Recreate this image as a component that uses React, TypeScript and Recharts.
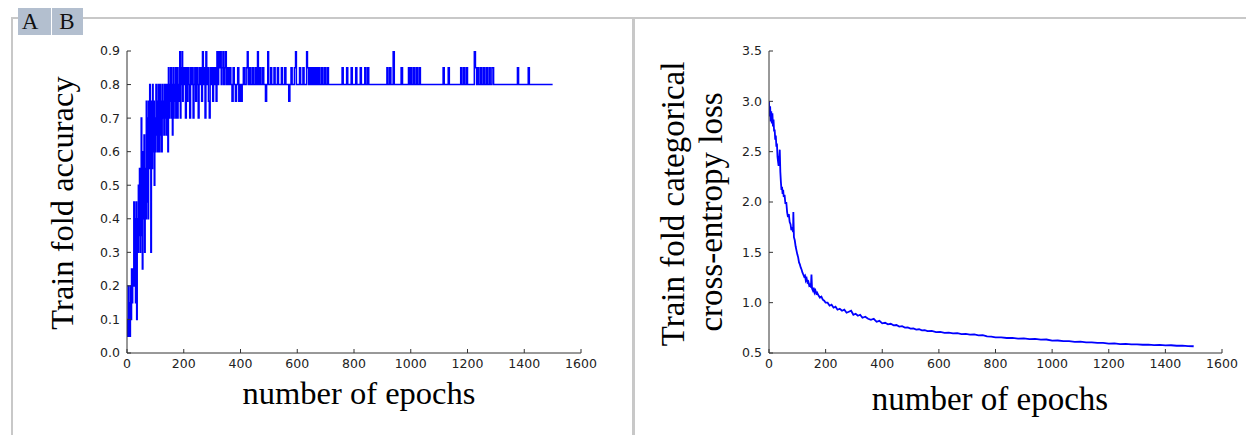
import React from 'react';
import { LineChart, Line, XAxis, YAxis } from 'recharts';

const xTicks = [0, 200, 400, 600, 800, 1000, 1200, 1400, 1600];
const accTicks = [0, 0.1, 0.2, 0.3, 0.4, 0.5, 0.6, 0.7, 0.8, 0.9];
const lossTicks = [0.5, 1.0, 1.5, 2.0, 2.5, 3.0, 3.5];

// [epoch, train fold accuracy] (held until the next entry)
const accuracySteps: [number, number][] = [
  [0, 0.1], [2, 0.05], [4, 0.2], [6, 0.05], [8, 0.15], [10, 0.05], [12, 0.2], [14, 0.1], [16, 0.25], [18, 0.15],
  [20, 0.25], [22, 0.2], [24, 0.45], [26, 0.2], [28, 0.4], [30, 0.15], [32, 0.45], [34, 0.1], [36, 0.4], [38, 0.3],
  [40, 0.5], [42, 0.35], [44, 0.55], [46, 0.3], [48, 0.45], [50, 0.7], [52, 0.35], [54, 0.25], [56, 0.6], [58, 0.4],
  [60, 0.65], [62, 0.3], [64, 0.55], [66, 0.4], [68, 0.75], [70, 0.45], [72, 0.7], [74, 0.4], [76, 0.75], [78, 0.55],
  [80, 0.8], [82, 0.6], [84, 0.3], [86, 0.75], [88, 0.55], [90, 0.8], [92, 0.6], [94, 0.75], [96, 0.5], [98, 0.7],
  [100, 0.6], [102, 0.8], [104, 0.65], [106, 0.75], [108, 0.6], [110, 0.8], [112, 0.7], [114, 0.6], [116, 0.8], [118, 0.65],
  [120, 0.75], [122, 0.6], [124, 0.8], [126, 0.7], [128, 0.75], [130, 0.65], [132, 0.8], [134, 0.7], [136, 0.8], [138, 0.65],
  [140, 0.75], [142, 0.8], [144, 0.6], [146, 0.85], [148, 0.7], [150, 0.8], [152, 0.75], [154, 0.85], [156, 0.7], [158, 0.8],
  [160, 0.65], [162, 0.85], [164, 0.7], [166, 0.8], [168, 0.75], [170, 0.85], [172, 0.7], [174, 0.8], [176, 0.85], [178, 0.7],
  [180, 0.8], [182, 0.75], [184, 0.85], [186, 0.9], [188, 0.7], [190, 0.85], [192, 0.8], [194, 0.9], [196, 0.75], [198, 0.85],
  [200, 0.8], [203, 0.85], [206, 0.7], [209, 0.85], [212, 0.75], [215, 0.85], [218, 0.8], [221, 0.7], [224, 0.85], [227, 0.8],
  [230, 0.85], [233, 0.7], [236, 0.8], [239, 0.85], [242, 0.75], [245, 0.85], [248, 0.8], [251, 0.7], [254, 0.85], [257, 0.8],
  [260, 0.85], [263, 0.75], [266, 0.9], [269, 0.8], [272, 0.85], [275, 0.7], [278, 0.9], [281, 0.8], [284, 0.85], [287, 0.75],
  [290, 0.7], [293, 0.85], [296, 0.8], [299, 0.85], [302, 0.75], [305, 0.85], [308, 0.8], [311, 0.85], [314, 0.75], [317, 0.9],
  [320, 0.8], [323, 0.9], [326, 0.85], [329, 0.9], [332, 0.8], [335, 0.85], [338, 0.9], [341, 0.8], [344, 0.85], [347, 0.9],
  [350, 0.8], [354, 0.85], [358, 0.8], [362, 0.85], [366, 0.8], [370, 0.75], [374, 0.85], [378, 0.8], [382, 0.75], [386, 0.8],
  [390, 0.85], [394, 0.75], [398, 0.8], [402, 0.75], [406, 0.8], [410, 0.85], [414, 0.8], [420, 0.85], [424, 0.9], [427, 0.8],
  [432, 0.85], [436, 0.8], [442, 0.85], [446, 0.8], [452, 0.85], [456, 0.8], [460, 0.9], [463, 0.8], [468, 0.85], [472, 0.8],
  [478, 0.85], [482, 0.8], [488, 0.75], [492, 0.8], [496, 0.9], [499, 0.8], [506, 0.85], [510, 0.8], [518, 0.85], [522, 0.8],
  [530, 0.85], [534, 0.8], [544, 0.85], [548, 0.8], [556, 0.85], [560, 0.8], [570, 0.75], [574, 0.8], [578, 0.85], [582, 0.8],
  [590, 0.85], [594, 0.9], [597, 0.8], [608, 0.85], [612, 0.8], [620, 0.85], [624, 0.8], [633, 0.9], [636, 0.85], [640, 0.8],
  [644, 0.85], [648, 0.8], [652, 0.85], [656, 0.8], [660, 0.85], [664, 0.8], [668, 0.85], [672, 0.8], [676, 0.85], [680, 0.8],
  [686, 0.85], [690, 0.8], [696, 0.85], [700, 0.8], [706, 0.85], [710, 0.8], [758, 0.85], [762, 0.8], [774, 0.85], [778, 0.8],
  [790, 0.85], [794, 0.8], [806, 0.85], [810, 0.8], [822, 0.85], [826, 0.8], [838, 0.85], [842, 0.8], [848, 0.85], [852, 0.8],
  [916, 0.85], [920, 0.8], [926, 0.85], [930, 0.8], [938, 0.9], [942, 0.8], [966, 0.85], [971, 0.8], [992, 0.85], [996, 0.8],
  [1000, 0.85], [1004, 0.8], [1010, 0.85], [1014, 0.8], [1020, 0.85], [1024, 0.8], [1030, 0.85], [1034, 0.8], [1114, 0.85], [1118, 0.8],
  [1132, 0.85], [1136, 0.8], [1176, 0.85], [1180, 0.8], [1186, 0.85], [1190, 0.8], [1196, 0.85], [1200, 0.8], [1224, 0.9], [1228, 0.85],
  [1232, 0.8], [1236, 0.85], [1240, 0.8], [1246, 0.85], [1250, 0.8], [1256, 0.85], [1260, 0.8], [1266, 0.85], [1270, 0.8], [1276, 0.85],
  [1280, 0.8], [1286, 0.85], [1292, 0.8], [1376, 0.85], [1380, 0.8], [1414, 0.85], [1418, 0.8], [1500, 0.8],
];

// [epoch, train fold categorical cross-entropy loss]
const lossPoints: [number, number][] = [
  [0, 3.0], [2, 2.85], [4, 2.95], [6, 2.8], [8, 2.9], [10, 2.78], [12, 2.88], [14, 2.75], [16, 2.82], [18, 2.7],
  [20, 2.72], [22, 2.62], [24, 2.66], [26, 2.55], [28, 2.58], [30, 2.45], [32, 2.4], [34, 2.36], [36, 2.42], [38, 2.52],
  [40, 2.3], [42, 2.2], [44, 2.12], [46, 2.15], [48, 2.08], [50, 2.12], [52, 2.05], [55, 2.07], [58, 1.98], [61, 2.0],
  [64, 1.9], [67, 1.85], [70, 1.88], [73, 1.8], [76, 1.78], [79, 1.72], [82, 1.75], [85, 1.7], [86, 1.9], [88, 1.65],
  [91, 1.62], [94, 1.56], [97, 1.52], [100, 1.48], [103, 1.45], [106, 1.4], [109, 1.38], [112, 1.35], [115, 1.33], [118, 1.3],
  [121, 1.28], [124, 1.26], [127, 1.27], [130, 1.22], [133, 1.24], [136, 1.2], [139, 1.21], [142, 1.17], [145, 1.18], [148, 1.15],
  [150, 1.28], [152, 1.14], [155, 1.12], [158, 1.15], [161, 1.1], [164, 1.12], [167, 1.09], [170, 1.1], [175, 1.07], [180, 1.05],
  [185, 1.06], [190, 1.03], [195, 1.02], [200, 1.0], [207, 1.0], [214, 0.97], [221, 0.98], [228, 0.95], [235, 0.96], [242, 0.93],
  [250, 0.94], [258, 0.92], [266, 0.93], [274, 0.9], [282, 0.91], [290, 0.92], [298, 0.88], [306, 0.89], [314, 0.87], [322, 0.88],
  [330, 0.85], [340, 0.86], [350, 0.84], [360, 0.83], [370, 0.84], [380, 0.81], [390, 0.82], [400, 0.795], [410, 0.8], [420, 0.785],
  [430, 0.79], [440, 0.775], [450, 0.778], [460, 0.762], [470, 0.766], [480, 0.752], [490, 0.755], [500, 0.742], [510, 0.745], [520, 0.733],
  [530, 0.736], [540, 0.725], [550, 0.728], [560, 0.718], [575, 0.72], [590, 0.708], [605, 0.71], [620, 0.7], [635, 0.703], [650, 0.695],
  [665, 0.697], [680, 0.688], [695, 0.69], [710, 0.682], [725, 0.684], [740, 0.676], [755, 0.678], [770, 0.665], [785, 0.662], [800, 0.655],
  [820, 0.656], [840, 0.649], [860, 0.65], [880, 0.643], [900, 0.645], [920, 0.638], [940, 0.64], [960, 0.633], [980, 0.634], [1000, 0.622],
  [1020, 0.624], [1040, 0.617], [1060, 0.618], [1080, 0.611], [1100, 0.612], [1120, 0.605], [1140, 0.606], [1160, 0.6], [1180, 0.601], [1200, 0.594],
  [1220, 0.595], [1240, 0.589], [1260, 0.59], [1280, 0.585], [1300, 0.586], [1320, 0.582], [1340, 0.583], [1360, 0.579], [1380, 0.58], [1400, 0.576],
  [1420, 0.577], [1440, 0.572], [1460, 0.573], [1480, 0.569], [1500, 0.567],
];

const accData = accuracySteps.map(([epoch, acc]) => ({ epoch, acc }));
const lossData = lossPoints.map(([epoch, loss]) => ({ epoch, loss }));

const tickFont = { fontFamily: 'DejaVu Sans', fontSize: 12.5, fill: '#222' };
const axisColor = '#333';
const frameColor = '#c8c8c8';
const tabColor = '#b3bfcf';
const serif = 'Liberation Serif, Times New Roman, serif';

type PanelProps = {
  left: number;
  width: number;
  yWidth: number;
  right: number;
  data: any[];
  dataKey: string;
  domain: [number, number];
  yTicks: number[];
  lineType: 'stepAfter' | 'linear';
  strokeWidth: number;
};

function Panel({ left, width, yWidth, right, data, dataKey, domain, yTicks, lineType, strokeWidth }: PanelProps) {
  const blank = () => '';
  return (
    <div style={{ position: 'absolute', left, top: 0 }}>
      <LineChart width={width} height={435} data={data} margin={{ top: 51, right, bottom: 52, left: 0 }}>
        <XAxis
          xAxisId="b"
          dataKey="epoch"
          type="number"
          domain={[0, 1600]}
          ticks={xTicks}
          interval={0}
          orientation="bottom"
          height={30}
          tickSize={-4}
          tickMargin={10}
          tick={tickFont}
          axisLine={{ stroke: axisColor }}
          tickLine={{ stroke: axisColor }}
          allowDataOverflow
        />
        <XAxis
          xAxisId="t"
          dataKey="epoch"
          type="number"
          domain={[0, 1600]}
          ticks={xTicks}
          interval={0}
          orientation="top"
          height={0}
          tickSize={-4}
          tickFormatter={blank}
          axisLine={{ stroke: axisColor }}
          tickLine={{ stroke: axisColor }}
          allowDataOverflow
        />
        <YAxis
          yAxisId="l"
          type="number"
          domain={domain}
          ticks={yTicks}
          interval={0}
          width={yWidth}
          tickSize={-4}
          tickMargin={11}
          tick={tickFont}
          tickFormatter={(v: number) => v.toFixed(1)}
          axisLine={{ stroke: axisColor }}
          tickLine={{ stroke: axisColor }}
          allowDataOverflow
        />
        <YAxis
          yAxisId="r"
          orientation="right"
          type="number"
          domain={domain}
          ticks={yTicks}
          interval={0}
          width={0}
          tickSize={-4}
          tickFormatter={blank}
          axisLine={{ stroke: axisColor }}
          tickLine={{ stroke: axisColor }}
          allowDataOverflow
        />
        <Line
          xAxisId="b"
          yAxisId="l"
          dataKey={dataKey}
          type={lineType}
          stroke="#0000ff"
          strokeWidth={strokeWidth}
          dot={false}
          activeDot={false}
          isAnimationActive={false}
        />
      </LineChart>
    </div>
  );
}

export default function App() {
  return (
    <div style={{ position: 'absolute', left: 0, top: 0, width: 1246, height: 435, background: '#fff', overflow: 'hidden' }}>
      <Panel
        left={0}
        width={633}
        yWidth={127}
        right={52}
        data={accData}
        dataKey="acc"
        domain={[0, 0.9]}
        yTicks={accTicks}
        lineType="stepAfter"
        strokeWidth={1.5}
      />
      <Panel
        left={633}
        width={613}
        yWidth={136}
        right={24}
        data={lossData}
        dataKey="loss"
        domain={[0.5, 3.5]}
        yTicks={lossTicks}
        lineType="linear"
        strokeWidth={1.8}
      />
      <svg
        width={1246}
        height={435}
        style={{ position: 'absolute', left: 0, top: 0, pointerEvents: 'none' }}
      >
        <rect x={83} y={17} width={1163} height={2} fill={frameColor} />
        <rect x={11} y={17} width={7} height={2} fill={frameColor} />
        <rect x={11} y={17} width={2} height={418} fill={frameColor} />
        <rect x={632} y={17} width={3} height={418} fill={frameColor} />
        <rect x={18} y={8} width={33} height={27} fill={tabColor} />
        <rect x={52} y={8} width={31} height={27} fill={tabColor} />
        <text x={30} y={29} textAnchor="middle" fontFamily={serif} fontSize={23} fill="#111">A</text>
        <text x={67} y={29} textAnchor="middle" fontFamily={serif} fontSize={23} fill="#111">B</text>
        <text x={359} y={404} textAnchor="middle" fontFamily={serif} fontSize={32.5} fill="#000">number of epochs</text>
        <text x={990} y={410} textAnchor="middle" fontFamily={serif} fontSize={33} fill="#000">number of epochs</text>
        <text transform="translate(73,203) rotate(-90)" textAnchor="middle" fontFamily={serif} fontSize={32.5} fill="#000">
          Train fold accuracy
        </text>
        <text transform="translate(684,204) rotate(-90)" textAnchor="middle" fontFamily={serif} fontSize={33} fill="#000">
          Train fold categorical
        </text>
        <text transform="translate(722,212) rotate(-90)" textAnchor="middle" fontFamily={serif} fontSize={33} fill="#000">
          cross-entropy loss
        </text>
      </svg>
    </div>
  );
}
